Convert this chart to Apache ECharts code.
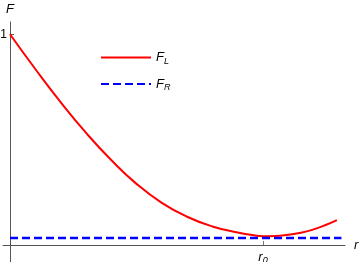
<!DOCTYPE html>
<html><head><meta charset="utf-8">
<script src="https://cdn.jsdelivr.net/npm/echarts@6/dist/echarts.min.js"></script>
<style>html,body{margin:0;padding:0;background:#fff}#c{width:360px;height:262px}</style>
</head><body><div id="c"></div>
<script>
// data (r in units of r0)
var rL = [0, 0.1, 0.2, 0.3, 0.4, 0.5, 0.6, 0.7, 0.8, 0.9, 0.95, 1.0, 1.05, 1.1, 1.15, 1.2, 1.25, 1.292];
var FL = [1.0, 0.835, 0.678, 0.533, 0.403, 0.290, 0.200, 0.134, 0.088, 0.059, 0.049, 0.042, 0.043, 0.049, 0.058, 0.074, 0.096, 0.118];
var rR = [0, 1.31];
var FR = [0.033, 0.033];
var xTicks = [1];
var yTicks = [1];

var chart = echarts.init(document.getElementById('c'), null, {renderer: 'canvas'});
var sub = {
  b: {fontFamily: 'Liberation Sans', fontStyle: 'italic', fontSize: 13, color: '#000'},
  s: {fontFamily: 'Liberation Sans', fontStyle: 'italic', fontSize: 9, color: '#000', verticalAlign: 'bottom', padding: [7, 0, 0, 0]}
};
var nameStyle = {fontFamily: 'Liberation Sans', fontStyle: 'italic', fontSize: 13, color: '#000'};
chart.setOption({
  animation: false,
  grid: [
    {left: 10, right: 15, top: 22, bottom: 17, containLabel: false, outerBoundsMode: 'none'},
    {left: 3, right: 15, top: 22, bottom: 0, containLabel: false, outerBoundsMode: 'none'}
  ],
  legend: {
    orient: 'vertical', left: 95, top: 46, itemWidth: 50, itemHeight: 14, itemGap: 12,
    itemStyle: {opacity: 0},
    data: [{name: 'FL'}, {name: 'FR'}],
    formatter: function (n) { return n === 'FL' ? '{b|F}{s|L}' : '{b|F}{s|R}'; },
    textStyle: {rich: sub, fontSize: 13}
  },
  xAxis: [{
    gridIndex: 0, type: 'value', min: 0, max: 1.324,
    axisLine: {show: false},
    axisTick: {inside: true, length: 4, customValues: xTicks, lineStyle: {color: '#777'}},
    axisLabel: {customValues: xTicks, margin: 4, formatter: function () { return '{b|r}{s|0}'; }, rich: sub},
    splitLine: {show: false}
  }, {
    gridIndex: 1, type: 'value', min: -0.0277, max: 1.324,
    name: 'r', nameLocation: 'end', nameGap: 9,
    nameTextStyle: Object.assign({verticalAlign: 'middle'}, nameStyle),
    axisLine: {onZero: true, lineStyle: {color: '#555', width: 1}},
    axisTick: {show: false}, axisLabel: {show: false}, splitLine: {show: false}
  }],
  yAxis: [{
    gridIndex: 0, type: 'value', min: 0, max: 1.058,
    axisLine: {show: false},
    axisTick: {inside: true, length: 4, customValues: yTicks, lineStyle: {color: '#555'}},
    axisLabel: {customValues: yTicks, margin: 3, color: '#000', fontFamily: 'Liberation Sans', fontSize: 12},
    splitLine: {show: false}
  }, {
    gridIndex: 1, type: 'value', min: -0.08, max: 1.058,
    name: 'F', nameLocation: 'end', nameGap: 6,
    nameTextStyle: Object.assign({align: 'center'}, nameStyle),
    axisLine: {onZero: true, lineStyle: {color: '#555', width: 1}},
    axisTick: {show: false}, axisLabel: {show: false}, splitLine: {show: false}
  }],
  series: [
    {name: 'FL', type: 'line', xAxisIndex: 0, yAxisIndex: 0, smooth: true, symbol: 'none',
     lineStyle: {color: '#ff0000', width: 2}, itemStyle: {color: '#ff0000'},
     data: rL.map(function (r, i) { return [r, FL[i]]; })},
    {name: 'FR', type: 'line', xAxisIndex: 0, yAxisIndex: 0, symbol: 'none',
     lineStyle: {color: '#0000ff', width: 2.5, type: [8, 4]}, itemStyle: {color: '#0000ff'},
     data: rR.map(function (r, i) { return [r, FR[i]]; })}
  ]
});
</script></body></html>
